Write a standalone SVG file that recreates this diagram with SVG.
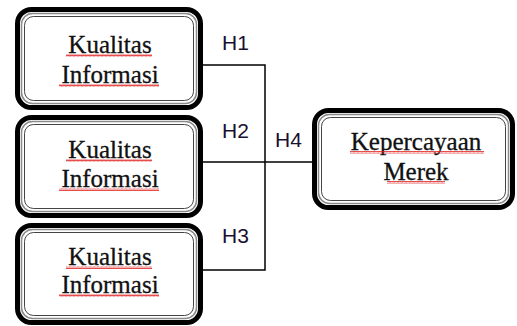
<svg xmlns="http://www.w3.org/2000/svg" width="517" height="326" viewBox="0 0 517 326">
<style>
.o{fill:#fff;stroke:#000;stroke-width:5}
.g{fill:none;stroke:#8a8a8a;stroke-width:1.5}
.i{fill:none;stroke:#444;stroke-width:1}
.t{font-family:"Liberation Serif","Times New Roman",serif;font-size:25px;fill:#111;stroke:#111;stroke-width:0.3;text-anchor:middle}
.h{font-family:"Liberation Sans",Arial,sans-serif;font-size:21px;fill:#1a1030}
.c{fill:none;stroke:#000;stroke-width:1.5}
.w{fill:url(#zz)}
</style>
<defs>
<pattern id="zz" width="4" height="3" patternUnits="userSpaceOnUse">
<path d="M0,2.5 L1,0.5 L2,2.5 L3,0.5 L4,2.5" fill="none" stroke="#e02020" stroke-width="0.8"/>
</pattern>
</defs>
<g id="connectors">
<path class="c" d="M203,65 H265 V270 H197"/>
<path class="c" d="M203,162 H313"/>
</g>
<g id="node1">
<rect class="o" x="17.5" y="9.5" width="183" height="98" rx="14"/>
<rect class="g" x="21.5" y="13.5" width="175" height="90" rx="11"/>
<rect class="i" x="24.5" y="16.5" width="169" height="84" rx="9"/>
<text class="t" x="110" y="53">Kualitas</text>
<text class="t" x="110" y="83">Informasi</text>
<rect class="w" x="66" y="54" width="86" height="3"/>
<rect class="w" x="59" y="84" width="100" height="3"/>
</g>
<g id="node2">
<rect class="o" x="17.5" y="117.5" width="183" height="98" rx="14"/>
<rect class="g" x="21.5" y="121.5" width="175" height="90" rx="11"/>
<rect class="i" x="24.5" y="124.5" width="169" height="84" rx="9"/>
<text class="t" x="110" y="158">Kualitas</text>
<text class="t" x="110" y="187">Informasi</text>
<rect class="w" x="66" y="159" width="86" height="3"/>
<rect class="w" x="59" y="188" width="100" height="3"/>
</g>
<g id="node3">
<rect class="o" x="17.5" y="225.5" width="183" height="97" rx="14"/>
<rect class="g" x="21.5" y="229.5" width="175" height="89" rx="11"/>
<rect class="i" x="24.5" y="232.5" width="169" height="83" rx="9"/>
<text class="t" x="110" y="265">Kualitas</text>
<text class="t" x="110" y="293">Informasi</text>
<rect class="w" x="66" y="266" width="86" height="3"/>
<rect class="w" x="59" y="294" width="100" height="3"/>
</g>
<g id="node4">
<rect class="o" x="314.5" y="110.5" width="198" height="97" rx="14"/>
<rect class="g" x="318.5" y="114.5" width="190" height="89" rx="11"/>
<rect class="i" x="321.5" y="117.5" width="184" height="83" rx="9"/>
<text class="t" x="416" y="150">Kepercayaan</text>
<text class="t" x="416" y="180">Merek</text>
<rect class="w" x="350" y="151" width="134" height="3"/>
<rect class="w" x="387" y="181" width="58" height="3"/>
</g>
<g id="labels">
<text class="h" x="222" y="50">H1</text>
<text class="h" x="222" y="138">H2</text>
<text class="h" x="222" y="243">H3</text>
<text class="h" x="275" y="147">H4</text>
</g>
</svg>
